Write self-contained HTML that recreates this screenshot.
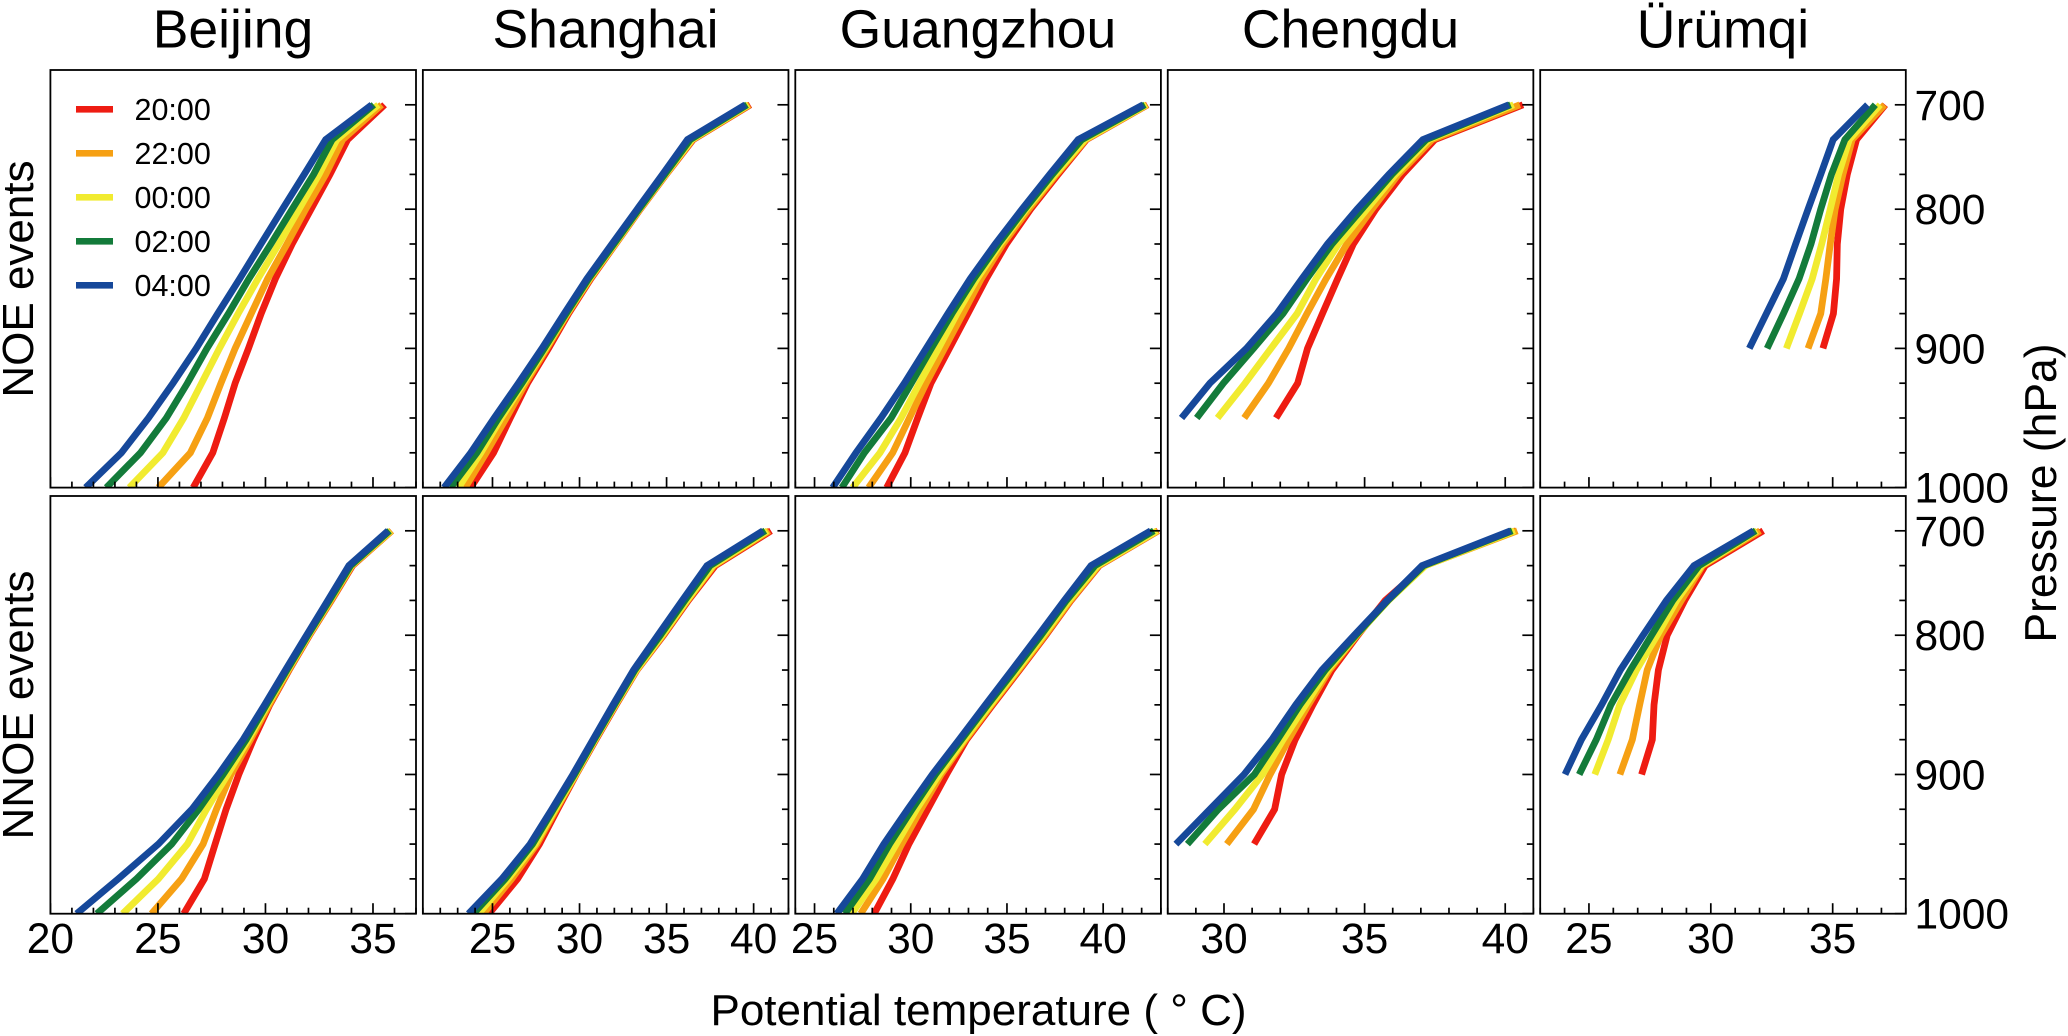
<!DOCTYPE html>
<html lang="en">
<head>
<meta charset="utf-8">
<title>Potential temperature profiles</title>
<style>
html,body{margin:0;padding:0;background:#fff;}
svg{display:block;font-family:"Liberation Sans",Arial,sans-serif;fill:#000;}
</style>
</head>
<body>
<svg id="chart" xmlns="http://www.w3.org/2000/svg" width="2068" height="1036" viewBox="0 0 2068 1036">
  <rect x="0" y="0" width="2068" height="1036" fill="#fff"/>
  <g id="panels"></g>
  <g font-size="53.5" text-anchor="middle">
    <text x="233" y="47.5">Beijing</text>
    <text x="605.5" y="47.5">Shanghai</text>
    <text x="978" y="47.5">Guangzhou</text>
    <text x="1350.5" y="47.5">Chengdu</text>
    <text x="1723" y="47.5">Ürümqi</text>
  </g>
  <text font-size="44" text-anchor="middle" transform="translate(33 279) rotate(-90)">NOE events</text>
  <text font-size="44" text-anchor="middle" transform="translate(33 705) rotate(-90)">NNOE events</text>
  <text font-size="44.5" text-anchor="middle" transform="translate(2056 493) rotate(-90)">Pressure (hPa)</text>
  <text font-size="44" text-anchor="middle" x="978.5" y="1025">Potential temperature ( ° C)</text>
  <g font-size="30.5">
    <g><rect x="76" y="106" width="37" height="6.6" fill="#EE1C12"/><text x="134.5" y="120">20:00</text></g>
    <g><rect x="76" y="150" width="37" height="6.6" fill="#F6A013"/><text x="134.5" y="164">22:00</text></g>
    <g><rect x="76" y="194" width="37" height="6.6" fill="#F1EB30"/><text x="134.5" y="208">00:00</text></g>
    <g><rect x="76" y="238" width="37" height="6.6" fill="#137B3A"/><text x="134.5" y="252">02:00</text></g>
    <g><rect x="76" y="282" width="37" height="6.6" fill="#16489A"/><text x="134.5" y="296">04:00</text></g>
  </g>
</svg>
<script>
// Categories
const cities = ["beijing", "shanghai", "guangzhou", "chengdu", "urumqi"];
const rows = ["noe", "nnoe"];
const times = ["2000", "2200", "0000", "0200", "0400"];
const colors = ["#EE1C12", "#F6A013", "#F1EB30", "#137B3A", "#16489A"];
const levels = [700, 750, 775, 800, 825, 850, 875, 900, 925, 950, 975, 1000];
const pressureLabels = [700, 800, 900, 1000];
// Axis domains (deg C)
const tempMin = [20, 21, 24, 28, 23];
const tempMax = [37, 42, 43, 41, 38];
const tempTickLabels = [[20, 25, 30, 35], [25, 30, 35, 40], [25, 30, 35, 40], [30, 35, 40], [25, 30, 35]];

// Values: one row per time (20:00, 22:00, 00:00, 02:00, 04:00), from 700 hPa downward
const beijingNoe = [
  [35.54,33.82,33.0,32.12,31.24,30.46,29.8,29.21,28.59,28.09,27.55,26.64],
  [35.4,33.59,32.8,31.87,31.0,30.1,29.34,28.59,27.93,27.3,26.51,25.02],
  [35.25,33.32,32.49,31.56,30.62,29.65,28.73,27.86,27.03,26.2,25.23,23.67],
  [35.04,33.1,32.24,31.24,30.25,29.23,28.28,27.28,26.37,25.39,24.19,22.6],
  [34.94,32.8,31.8,30.79,29.79,28.8,27.78,26.78,25.7,24.56,23.3,21.64]
];
const shanghaiNoe = [
  [39.81,36.53,34.98,33.49,32.07,30.65,29.37,28.22,27.01,26.02,25.06,23.75],
  [39.77,36.49,34.96,33.47,32.05,30.61,29.31,28.12,26.9,25.79,24.64,23.43],
  [39.71,36.46,34.94,33.45,32.03,30.57,29.27,28.05,26.78,25.5,24.33,23.05],
  [39.62,36.36,34.89,33.41,31.97,30.52,29.23,27.97,26.69,25.35,24.1,22.6],
  [39.52,36.2,34.77,33.31,31.86,30.42,29.12,27.84,26.49,25.1,23.75,22.22]
];
const guangzhouNoe = [
  [42.31,39.13,37.66,36.23,34.97,33.92,32.97,32.01,31.05,30.36,29.7,28.75],
  [42.29,39.1,37.57,36.13,34.79,33.66,32.71,31.75,30.8,29.93,29.06,27.81],
  [42.26,39.05,37.5,36.0,34.65,33.44,32.4,31.44,30.45,29.5,28.4,26.98],
  [42.17,38.89,37.36,35.92,34.55,33.28,32.14,31.07,30.03,28.98,27.59,26.42],
  [42.08,38.7,37.22,35.78,34.39,33.09,31.93,30.8,29.67,28.45,27.15,25.94]
];
const chengduNoe = [
  [40.63,37.5,36.35,35.4,34.6,34.04,33.5,32.97,32.62,31.85],
  [40.52,37.4,36.2,35.26,34.37,33.63,32.95,32.3,31.58,30.72],
  [40.3,37.28,36.1,35.08,34.07,33.27,32.6,31.67,30.75,29.77],
  [40.19,37.19,35.97,34.9,33.84,32.95,32.1,31.05,29.98,29.03],
  [40.13,37.07,35.86,34.73,33.68,32.77,31.88,30.8,29.5,28.49]
];
const urumqiNoe = [
  [37.16,35.98,35.6,35.33,35.19,35.16,35.03,34.6],
  [37.13,35.8,35.42,35.1,34.9,34.72,34.51,33.99],
  [36.95,35.68,35.24,34.9,34.55,34.16,33.64,33.1],
  [36.75,35.5,34.95,34.51,34.11,33.62,32.98,32.31],
  [36.43,35.02,34.51,33.99,33.48,32.98,32.28,31.58]
];
const beijingNnoe = [
  [35.87,34.05,33.07,32.05,31.1,30.2,29.44,28.76,28.17,27.66,27.16,26.2],
  [35.87,34.02,33.05,32.03,31.08,30.17,29.3,28.4,27.72,27.1,26.1,24.7],
  [35.83,34,33,32.01,31.04,30.1,29.2,28.24,27.26,26.37,25.02,23.36],
  [35.77,33.96,32.97,31.97,31,30.04,29.1,28.03,26.9,25.64,24,22.16],
  [35.7,33.88,32.9,31.91,30.93,29.96,28.96,27.82,26.58,25.02,23.15,21.22]
];
const shanghaiNnoe = [
  [41,37.8,36.25,34.83,33.3,32.1,30.94,29.81,28.74,27.7,26.44,24.8],
  [40.9,37.72,36.2,34.79,33.28,32.07,30.9,29.79,28.66,27.55,26.1,24.48],
  [40.8,37.66,36.17,34.75,33.26,32.05,30.9,29.77,28.6,27.45,25.9,24.2],
  [40.67,37.5,36.05,34.64,33.18,32,30.84,29.71,28.5,27.3,25.73,23.9],
  [40.54,37.32,35.9,34.5,33.1,31.92,30.77,29.62,28.41,27.16,25.54,23.62]
];
const guangzhouNnoe = [
  [42.86,39.8,38.33,37.02,35.65,34.26,32.9,31.86,30.88,29.9,29.07,28.1],
  [42.84,39.77,38.3,36.98,35.6,34.2,32.84,31.58,30.53,29.53,28.56,27.4],
  [42.8,39.72,38.23,36.9,35.53,34.14,32.77,31.47,30.3,29.25,28.2,26.93],
  [42.63,39.58,38.09,36.77,35.4,34,32.63,31.28,30.07,28.9,27.86,26.58],
  [42.47,39.37,37.98,36.63,35.26,33.88,32.51,31.12,29.84,28.6,27.5,26.16]
];
const chengduNnoe = [
  [40.39,37.14,35.73,34.76,33.84,33.16,32.53,32.05,31.8,31.07],
  [40.43,37.16,35.82,34.73,33.75,33,32.3,31.64,31.05,30.1],
  [40.34,37.16,35.85,34.71,33.68,32.9,32.1,31.37,30.39,29.32],
  [40.25,37.1,35.83,34.69,33.6,32.7,31.9,31.08,29.8,28.7],
  [40.19,37.04,35.8,34.63,33.48,32.55,31.7,30.71,29.5,28.29]
];
const urumqiNnoe = [
  [32.15,29.77,28.93,28.21,27.85,27.67,27.6,27.16],
  [32.02,29.66,28.79,27.95,27.39,27.08,26.78,26.27],
  [31.9,29.62,28.6,27.8,26.95,26.26,25.79,25.24],
  [31.84,29.52,28.44,27.57,26.7,25.9,25.3,24.6],
  [31.75,29.31,28.18,27.22,26.29,25.52,24.69,24.02]
];
const noeValues = [beijingNoe, shanghaiNoe, guangzhouNoe, chengduNoe, urumqiNoe];
const nnoeValues = [beijingNnoe, shanghaiNnoe, guangzhouNnoe, chengduNnoe, urumqiNnoe];

const NS = "http://www.w3.org/2000/svg";
const panelLeft0 = 50.4, panelStep = 372.45, panelWidth = 365.6;
const rowTop = [70, 496], rowBottom = [487.6, 913.7];
const levelSlots = levels.length;

function make(tag, parent, attrs) {
  const el = document.createElementNS(NS, tag);
  for (const k in attrs) el.setAttribute(k, attrs[k]);
  parent.appendChild(el);
  return el;
}
function xScale(c, t) {
  const left = panelLeft0 + panelStep * c;
  return left + (t - tempMin[c]) / (tempMax[c] - tempMin[c]) * panelWidth;
}
function yScale(r, i) {
  const step = (rowBottom[r] - rowTop[r]) / levelSlots;
  return rowTop[r] + step * (i + 1);
}

const root = document.getElementById("panels");
const defs = make("defs", root, {});
rows.forEach(function (rowName, r) {
  const dataset = r === 0 ? noeValues : nnoeValues;
  cities.forEach(function (city, c) {
    const left = panelLeft0 + panelStep * c;
    const right = left + panelWidth;
    const top = rowTop[r], bottom = rowBottom[r];
    const panel = make("g", root, {});
    
    

    const clipId = "clip-" + city + "-" + rowName;
    const clip = make("clipPath", defs, { id: clipId });
    make("rect", clip, { x: left, y: top, width: panelWidth, height: bottom - top });

    // series
    dataset[c].forEach(function (series, s) {
      const pts = series.map(function (v, i) {
        return xScale(c, v).toFixed(2) + "," + yScale(r, i).toFixed(2);
      }).join(" ");
      const line = make("polyline", panel, {
        points: pts, fill: "none", stroke: colors[s], "stroke-width": 6.8,
        "stroke-linejoin": "miter", "stroke-linecap": "butt", "clip-path": "url(#" + clipId + ")"
      });
      
      
    });

    // pressure ticks on right edge
    levels.forEach(function (lev, i) {
      const major = pressureLabels.indexOf(lev) >= 0;
      const y = yScale(r, i);
      const tick = make("line", panel, { x1: right - (major ? 11 : 6.5), x2: right, y1: y, y2: y, stroke: "#000", "stroke-width": 1.7 });
      
      
    });

    // temperature ticks on bottom edge
    for (let t = tempMin[c]; t <= tempMax[c]; t++) {
      const major = t % 5 === 0;
      const x = xScale(c, t);
      const tick = make("line", panel, { x1: x, x2: x, y1: bottom - (major ? 10.5 : 6), y2: bottom, stroke: "#000", "stroke-width": 1.7 });
      
      
    }

    // frame
    const frame = make("rect", panel, { x: left, y: top, width: panelWidth, height: bottom - top, fill: "none", stroke: "#000", "stroke-width": 1.8 });
    
    

    // bottom row temperature labels
    if (r === 1) {
      tempTickLabels[c].forEach(function (t) {
        const label = make("text", panel, { x: xScale(c, t), y: 953, "font-size": 42.5, "text-anchor": "middle" });
        label.textContent = String(t);
        
        
      });
    }
    // last column pressure labels
    if (c === cities.length - 1) {
      pressureLabels.forEach(function (p) {
        const label = make("text", panel, { x: 1914.5, y: yScale(r, levels.indexOf(p)) + 15, "font-size": 42.5 });
        label.textContent = String(p);
        
        
      });
    }
  });
});
</script>
</body>
</html>
